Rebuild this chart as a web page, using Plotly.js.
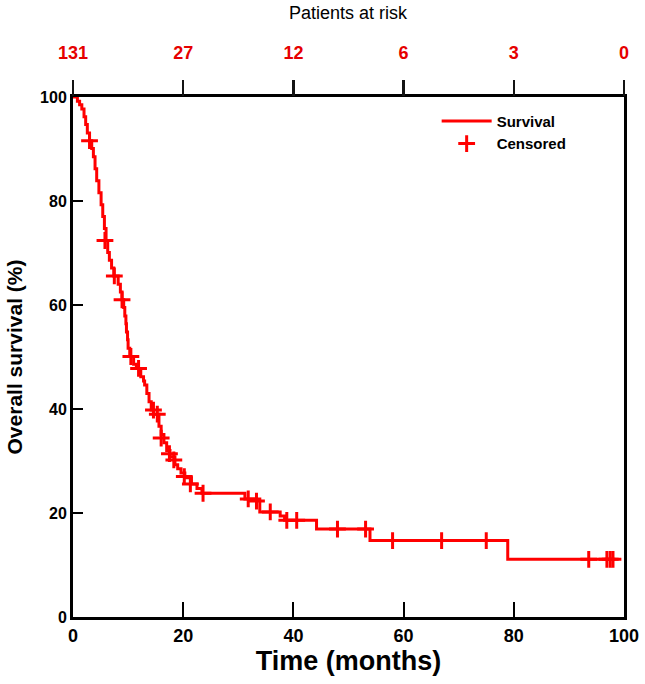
<!DOCTYPE html>
<html>
<head>
<meta charset="utf-8">
<script src="https://cdn.plot.ly/plotly-3.0.1.min.js"></script>
<style>html,body{margin:0;padding:0;background:#fff;}#chart{width:645px;height:684px;}</style>
</head>
<body>
<div id="chart"></div>
<script>
// Kaplan-Meier step curve (time in months, survival %)
var kmTime = [0, 0.8, 1.2, 1.6, 2.0, 2.3, 2.6, 3.0, 3.4, 3.7, 4.0, 4.3, 4.7, 5.1, 5.4, 5.7, 6.0, 6.3, 6.6, 7.0, 7.4,
  8.2, 8.6, 8.9, 9.2, 9.4, 9.6, 9.7, 9.9, 10.0, 10.3, 11.0, 11.5, 12.3, 12.8, 13.0, 13.4, 13.8, 14.2, 14.6,
  15.6, 16.0, 16.5, 17.0, 17.6, 18.5, 19.0, 19.6, 20.3, 21.5, 22.5, 23.4, 31.2, 33.9, 37.6, 38.4, 44.2, 53.9, 78.9, 98.0];
var kmSurv = [100, 99.2, 98.5, 97.7, 96.2, 94.7, 93.1, 91.6, 90.1, 88.5, 86.2, 83.9, 81.6, 79.3, 77.0, 74.7, 72.4, 70.1, 68.6, 67.1, 65.6,
  64.0, 62.5, 61.0, 59.5, 57.9, 56.4, 54.8, 53.3, 51.7, 50.1, 48.6, 47.8, 46.2, 45.4, 44.6, 43.0, 41.4, 39.8, 39.0,
  36.7, 35.1, 33.5, 32.0, 30.8, 29.3, 28.5, 27.7, 26.8, 25.6, 24.7, 23.8, 22.7, 20.2, 19.4, 18.6, 16.9, 14.7, 11.1, 11.1];
// Censored observations
var censTime = [3.0, 5.8, 7.5, 8.9, 10.5, 11.9, 14.6, 15.3, 16.0, 17.5, 18.3, 20.2, 21.3, 23.6, 31.8, 33.3, 35.8, 38.8, 40.6, 48.0, 53.1, 58.0, 66.9, 75.0, 93.6, 96.9, 97.5, 98.0];
var censSurv = [91.6, 72.4, 65.6, 61.0, 50.1, 47.8, 39.8, 39.0, 34.4, 31.4, 30.2, 27.0, 25.6, 23.8, 22.7, 22.3, 20.2, 18.6, 18.6, 16.9, 16.9, 14.7, 14.7, 14.7, 11.1, 11.1, 11.1, 11.1];
// Patients at risk (top axis)
var riskTicks = [0, 20, 40, 60, 80, 100];
var riskCounts = ['131', '27', '12', '6', '3', '0'];

var red = '#ff0000';
var traces = [
  {x: kmTime, y: kmSurv, mode: 'lines', line: {shape: 'hv', color: red, width: 3}, name: 'Survival'},
  {x: censTime, y: censSurv, mode: 'markers', marker: {symbol: 'cross-thin', size: 12, line: {color: red, width: 3}, color: red}, name: 'Censored'},
  {x: riskTicks, y: riskTicks.map(function(){return null;}), xaxis: 'x2', yaxis: 'y', mode: 'markers', showlegend: false, hoverinfo: 'skip'}
];
var layout = {
  width: 645, height: 684,
  margin: {l: 73, r: 21, t: 97, b: 67},
  paper_bgcolor: '#fff', plot_bgcolor: '#fff',
  font: {family: 'Liberation Sans, Arial, sans-serif', color: '#000'},
  showlegend: true,
  legend: {x: 0.66, y: 0.985, xanchor: 'left', yanchor: 'top', bgcolor: 'rgba(0,0,0,0)',
    font: {size: 15, weight: 'bold', color: '#000'}, tracegroupgap: 0, itemwidth: 50},
  xaxis: {range: [0, 100], tickvals: [0, 20, 40, 60, 80, 100], ticks: 'inside', ticklen: 15, tickwidth: 2, tickcolor: '#000',
    showline: true, linewidth: 3, linecolor: '#000', mirror: true, showgrid: false, zeroline: false,
    tickfont: {size: 18, weight: 'bold'},
    title: {text: 'Time (months)', font: {size: 27, weight: 'bold'}, standoff: 6}},
  xaxis2: {range: [0, 100], overlaying: 'x', anchor: 'y', side: 'top', tickmode: 'array', tickvals: riskTicks, ticktext: riskCounts,
    ticks: 'outside', ticklen: 16, tickwidth: 2.5, tickcolor: 'rgb(20,20,20)', showline: false, showgrid: false, zeroline: false,
    ticklabelstandoff: 14,
    tickfont: {size: 18, weight: 'bold', color: '#e60000'}},
  yaxis: {range: [0, 100], tickvals: [0, 20, 40, 60, 80, 100], ticks: 'inside', ticklen: 10, tickwidth: 2, tickcolor: '#000',
    showline: true, linewidth: 3, linecolor: '#000', mirror: true, showgrid: false, zeroline: false,
    tickfont: {size: 16, weight: 'bold'},
    title: {text: 'Overall survival (%)', font: {size: 21, weight: 'bold'}, standoff: 12}},
  annotations: [{text: 'Patients at risk', xref: 'paper', yref: 'paper', x: 0.5, y: 1 + (97 - 13) / 520,
    xanchor: 'center', yanchor: 'middle', showarrow: false, font: {size: 18, color: '#000'}}]
};
Plotly.newPlot('chart', traces, layout, {displayModeBar: false, staticPlot: true});
</script>
</body>
</html>
